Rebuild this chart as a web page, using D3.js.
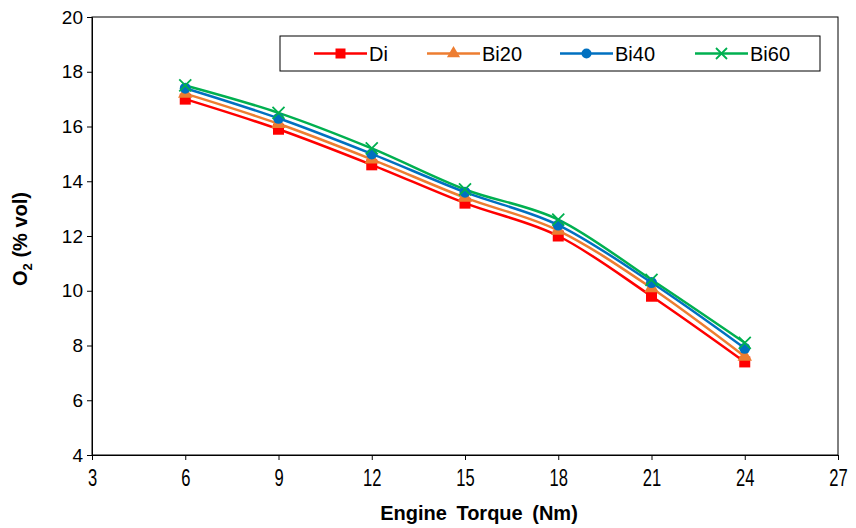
<!DOCTYPE html>
<html>
<head>
<meta charset="utf-8">
<script src="https://cdn.jsdelivr.net/npm/d3@7"></script>
<style>
  body { margin: 0; background: #fff; }
  text { font-family: "Liberation Sans", Arial, sans-serif; fill: #000; }
</style>
</head>
<body>
<svg id="chart" width="856" height="528"></svg>
<script>
var torque = [6, 9, 12, 15, 18, 21, 24];
var di = [17.0, 15.9, 14.6, 13.2, 12.0, 9.8, 7.4];
var bi20 = [17.2, 16.1, 14.8, 13.4, 12.2, 10.1, 7.6];
var bi40 = [17.4, 16.3, 15.0, 13.6, 12.4, 10.3, 7.9];
var bi60 = [17.5, 16.5, 15.2, 13.7, 12.6, 10.4, 8.1];
var xTicks = [3, 6, 9, 12, 15, 18, 21, 24, 27];
var yTicks = [4, 6, 8, 10, 12, 14, 16, 18, 20];

var series = [
  {name: 'Di', values: di, color: '#ff0000', marker: 'square'},
  {name: 'Bi20', values: bi20, color: '#ed7d31', marker: 'triangle'},
  {name: 'Bi40', values: bi40, color: '#0070c0', marker: 'circle'},
  {name: 'Bi60', values: bi60, color: '#00b050', marker: 'cross'}
];

var margin = {top: 17, right: 18, bottom: 73, left: 92};
var svg = d3.select('#chart');
var width = 856 - margin.left - margin.right;
var height = 528 - margin.top - margin.bottom;

var x = d3.scaleLinear().domain([3, 27]).range([0, width]);
var y = d3.scaleLinear().domain([4, 20]).range([height, 0]);

var g = svg.append('g')
    .attr('transform', 'translate(' + margin.left + ',' + margin.top + ')');

// frame
g.append('rect')
    .attr('width', width).attr('height', height)
    .attr('fill', 'none').attr('stroke', '#000').attr('stroke-width', 1);

var xAxis = g.append('g')
    .attr('transform', 'translate(0,' + height + ')')
    .call(d3.axisBottom(x).tickValues(xTicks).tickSize(5).tickPadding(10));
var yAxis = g.append('g')
    .call(d3.axisLeft(y).tickValues(yTicks).tickSize(5).tickPadding(4));

[xAxis, yAxis].forEach(function(a) {
  a.select('.domain').attr('stroke', '#000');
  a.selectAll('line').attr('stroke', '#000');
  a.selectAll('text').attr('fill', '#000');
});
yAxis.selectAll('text').style('font-size', '19px');
// x labels look tall and narrow in the original
xAxis.selectAll('text').style('font-size', '23px').attr('transform', 'scale(0.72,1)');

function drawMarker(sel, type, color, s) {
  if (type == 'square') {
    sel.append('rect').attr('x', -s/2).attr('y', -s/2).attr('width', s).attr('height', s)
        .attr('fill', color);
  } else if (type == 'triangle') {
    sel.append('path').attr('d', d3.symbol().type(d3.symbolTriangle).size(s * s * 0.75))
        .attr('fill', color);
  } else if (type == 'circle') {
    sel.append('circle').attr('r', s/2).attr('fill', color);
  } else {
    var h = s/2;
    sel.append('path').attr('d', 'M' + (-h) + ',' + (-h) + 'L' + h + ',' + h + 'M' + (-h) + ',' + h + 'L' + h + ',' + (-h))
        .attr('stroke', color).attr('stroke-width', 1.8).attr('fill', 'none');
  }
}

var line = d3.line()
    .x(function(d, i) { return x(torque[i]); })
    .y(function(d) { return y(d); })
    .curve(d3.curveMonotoneX);

series.forEach(function(s) {
  g.append('path')
      .datum(s.values)
      .attr('d', line)
      .attr('fill', 'none')
      .attr('stroke', s.color)
      .attr('stroke-width', 2.5);
});
series.forEach(function(s) {
  s.values.forEach(function(v, i) {
    var m = g.append('g').attr('transform', 'translate(' + x(torque[i]) + ',' + y(v) + ')');
    drawMarker(m, s.marker, s.color, s.marker == 'cross' ? 12 : 11);
  });
});

// legend
var leg = svg.append('g').attr('transform', 'translate(280,36)');
leg.append('rect').attr('width', 540).attr('height', 35)
    .attr('fill', '#fff').attr('stroke', '#000').attr('stroke-width', 1);
var legX = [34, 147, 280, 415];
series.forEach(function(s, i) {
  var e = leg.append('g').attr('transform', 'translate(' + legX[i] + ',17.5)');
  e.append('line').attr('x1', 0).attr('x2', 53).attr('stroke', s.color).attr('stroke-width', 2.5);
  var m = e.append('g').attr('transform', 'translate(26.5,0)');
  drawMarker(m, s.marker, s.color, s.marker == 'cross' ? 11 : 10);
  e.append('text').attr('x', 55).attr('y', 7).style('font-size', '20px').text(s.name);
});

// axis titles
svg.append('text')
    .attr('x', 479).attr('y', 520)
    .attr('text-anchor', 'middle')
    .style('font-size', '20px').style('font-weight', 'bold')
    .style('word-spacing', '4px')
    .text('Engine Torque (Nm)');

var yt = svg.append('text')
    .attr('transform', 'translate(27,239) rotate(-90)')
    .attr('text-anchor', 'middle')
    .style('font-size', '20px').style('font-weight', 'bold');
yt.append('tspan').text('O');
yt.append('tspan').attr('dy', 5).style('font-size', '13px').text('2');
yt.append('tspan').attr('dy', -5).text(' (% vol)');
</script>
</body>
</html>
